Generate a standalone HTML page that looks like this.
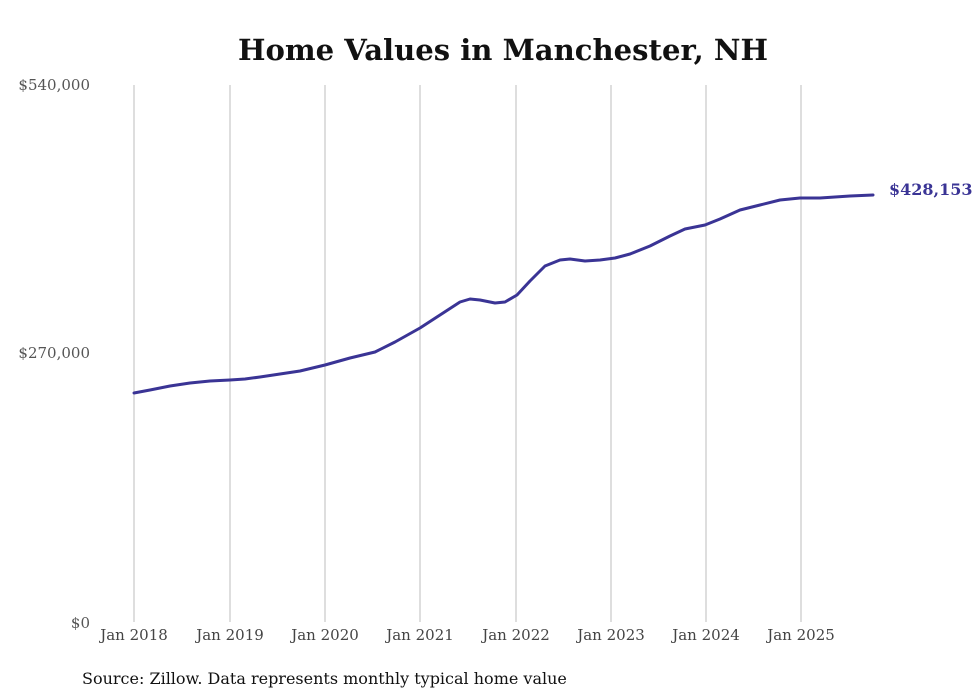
<!DOCTYPE html>
<html><head><meta charset="utf-8"><style>
body{margin:0;background:#fff;}
svg{display:block;font-family:"DejaVu Serif","Liberation Serif",serif;}
</style></head><body>
<svg width="980" height="699" viewBox="0 0 980 699" xmlns="http://www.w3.org/2000/svg">
<rect width="980" height="699" fill="#fff"/>
<text x="503" y="60" text-anchor="middle" font-size="28.5" font-weight="bold" fill="#111" textLength="530" lengthAdjust="spacingAndGlyphs">Home Values in Manchester, NH</text>
<g stroke="#bdbdbd" stroke-width="1">
<line x1="134" y1="85" x2="134" y2="622"/>
<line x1="230" y1="85" x2="230" y2="622"/>
<line x1="325" y1="85" x2="325" y2="622"/>
<line x1="420" y1="85" x2="420" y2="622"/>
<line x1="516" y1="85" x2="516" y2="622"/>
<line x1="611" y1="85" x2="611" y2="622"/>
<line x1="706" y1="85" x2="706" y2="622"/>
<line x1="801" y1="85" x2="801" y2="622"/>
</g>
<g font-size="15" fill="#555">
<text x="90" y="90" text-anchor="end">$540,000</text>
<text x="90" y="358" text-anchor="end">$270,000</text>
<text x="90" y="628" text-anchor="end">$0</text>
</g>
<g font-size="15" fill="#444" text-anchor="middle">
<text x="134" y="640">Jan 2018</text>
<text x="230" y="640">Jan 2019</text>
<text x="325" y="640">Jan 2020</text>
<text x="420" y="640">Jan 2021</text>
<text x="516" y="640">Jan 2022</text>
<text x="611" y="640">Jan 2023</text>
<text x="706" y="640">Jan 2024</text>
<text x="801" y="640">Jan 2025</text>
</g>
<polyline fill="none" stroke="#3a3495" stroke-width="3" stroke-linejoin="round" stroke-linecap="round"
points="134,393 150,390 170,386 190,383 210,381 230,380 245,379 260,377 280,374 300,371 325,365 350,358 375,352 395,342 420,328 440,315 460,302 470,299 480,300 495,303 505,302 517,295 530,281 545,266 560,260 570,259 585,261 600,260 615,258 630,254 650,246 670,236 685,229 705,225 720,219 740,210 760,205 780,200 800,198 820,198 835,197 850,196 873,195"/>
<text x="889" y="195" font-size="16" font-weight="bold" fill="#3a3495">$428,153</text>
<text x="82" y="684" font-size="16" fill="#111">Source: Zillow. Data represents monthly typical home value</text>
</svg>
</body></html>
